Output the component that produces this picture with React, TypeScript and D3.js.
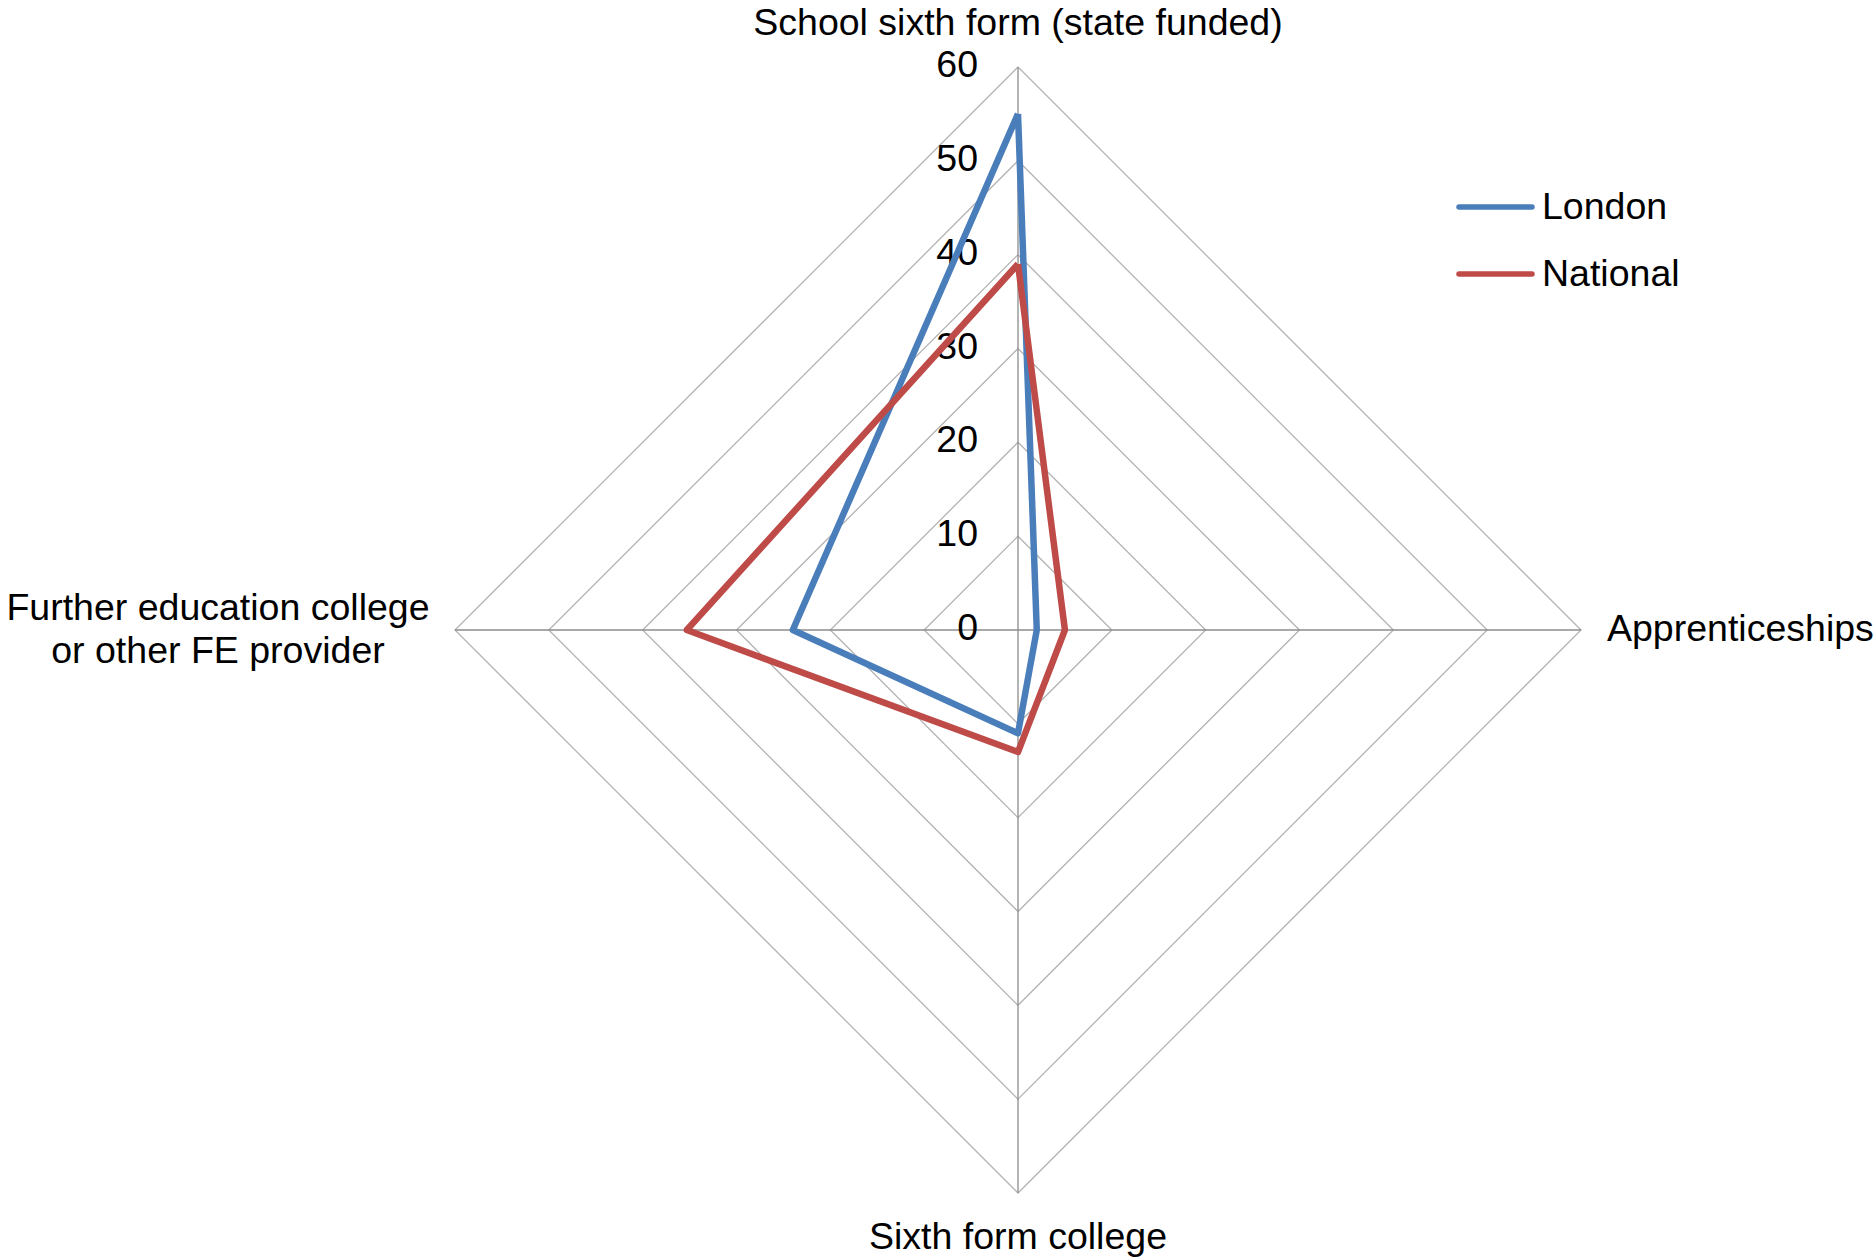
import React, { useRef, useEffect } from 'react';
import * as d3 from 'd3';

const width = 1874;
const height = 1259;
const cx = 1018;
const cy = 630;
const outerRadius = 563;

const CATEGORIES = [
  'School sixth form (state funded)',
  'Apprenticeships',
  'Sixth form college',
  'Further education college|or other FE provider',
];
const LONDON = [55, 2, 11, 24];
const NATIONAL = [39, 5, 13, 35.3];
const SERIES = ['London', 'National'];
const SERIES_COLORS = ['#4a7ebb', '#be4b48'];
const TICKS = [0, 10, 20, 30, 40, 50, 60];

const r = d3.scaleLinear().domain([0, 60]).range([0, outerRadius]);
const angle = d3.scaleLinear().domain([0, CATEGORIES.length]).range([0, 2 * Math.PI]);

const font = '"Liberation Sans", Arial, sans-serif';
const fontSize = 37.5;

function point(i: number, v: number): [number, number] {
  const a = angle(i);
  return [cx + r(v) * Math.sin(a), cy - r(v) * Math.cos(a)];
}

function drawChart(g: SVGGElement) {
  const root = d3.select(g);
  root.selectAll('*').remove();

  // rings
  root.append('g')
    .selectAll('path')
    .data(TICKS.slice(1))
    .join('path')
    .attr('d', t => {
      const pts = CATEGORIES.map((_, i) => point(i, t));
      return d3.line()(pts.concat([pts[0]]));
    })
    .attr('fill', 'none')
    .attr('stroke', '#b3b3b3')
    .attr('stroke-width', 1.3);

  // spokes
  root.append('g')
    .selectAll('line')
    .data(CATEGORIES)
    .join('line')
    .attr('x1', cx)
    .attr('y1', cy)
    .attr('x2', (_, i) => point(i, 60)[0])
    .attr('y2', (_, i) => point(i, 60)[1])
    .attr('stroke', '#8c8c8c')
    .attr('stroke-width', 1.3);

  // tick labels
  root.append('g')
    .selectAll('text')
    .data(TICKS)
    .join('text')
    .attr('x', cx - 40)
    .attr('y', t => cy - r(t) - 3)
    .attr('text-anchor', 'end')
    .attr('dominant-baseline', 'central')
    .attr('font-family', font)
    .attr('font-size', fontSize)
    .attr('fill', '#000')
    .text(t => t);

  // series
  [LONDON, NATIONAL].forEach((values, s) => {
    const pts = values.map((v, i) => point(i, v));
    root.append('path')
      .attr('d', d3.line()(pts.concat([pts[0]])))
      .attr('fill', 'none')
      .attr('stroke', SERIES_COLORS[s])
      .attr('stroke-width', 6.5)
      .attr('stroke-linejoin', 'round');
  });

  // category labels
  const labelOffsets: [number, number, string][] = [
    [0, -45, 'middle'],
    [26, -2, 'start'],
    [0, 43, 'middle'],
    [-237, -2, 'middle'],
  ];
  CATEGORIES.forEach((c, i) => {
    const [x, y] = point(i, 60);
    const [dx, dy, anchor] = labelOffsets[i];
    const lines = c.split('|');
    const text = root.append('text')
      .attr('x', x + dx)
      .attr('y', y + dy)
      .attr('text-anchor', anchor)
      .attr('font-family', font)
      .attr('font-size', fontSize)
      .attr('fill', '#000');
    lines.forEach((l, k) => {
      text.append('tspan')
        .attr('x', x + dx)
        .attr('y', y + dy + (k - (lines.length - 1) / 2) * 43)
        .attr('dominant-baseline', 'central')
        .text(l);
    });
  });

  // legend
  const legend = root.append('g').attr('transform', 'translate(1459,207)');
  SERIES.forEach((name, s) => {
    const row = legend.append('g').attr('transform', `translate(0,${s * 67})`);
    row.append('line')
      .attr('x1', 0)
      .attr('x2', 73)
      .attr('stroke', SERIES_COLORS[s])
      .attr('stroke-width', 5.5)
      .attr('stroke-linecap', 'round');
    row.append('text')
      .attr('x', 83)
      .attr('y', -1)
      .attr('dominant-baseline', 'central')
      .attr('font-family', font)
      .attr('font-size', fontSize)
      .attr('fill', '#000')
      .text(name);
  });
}

const App = () => {
  const gRef = useRef<SVGGElement>(null);

  useEffect(() => {
    if (gRef.current) drawChart(gRef.current);
  }, []);

  return (
    <svg
      width={width}
      height={height}
      style={{ position: 'absolute', left: 0, top: 0, background: '#fff' }}
    >
      <g ref={gRef}></g>
    </svg>
  );
};

export default App;
